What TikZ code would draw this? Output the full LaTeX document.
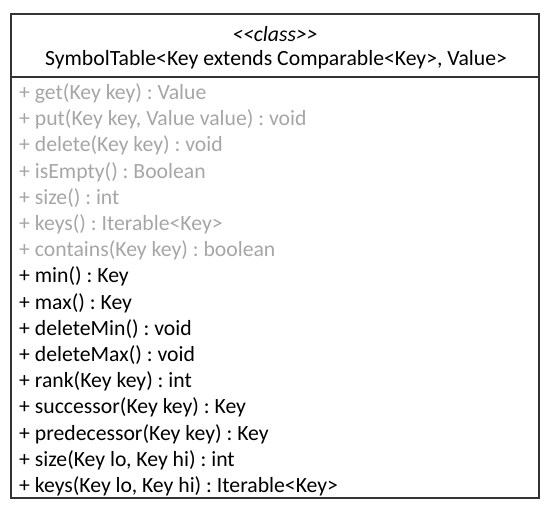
\documentclass[tikz,border=0pt]{standalone}
\usepackage{fontspec}
\setmainfont{Carlito}
\usepackage{xcolor}
\usetikzlibrary{positioning}
\definecolor{inherited}{HTML}{A6A6A6}
\tikzset{
  frame/.style   = {draw=black!80, line width=1.2pt},
  title/.style   = {anchor=base, font=\fontsize{21.7}{24}\selectfont, inner sep=0pt},
  member/.style  = {anchor=base west, font=\fontsize{21.7}{24}\selectfont, inner sep=0pt},
  old/.style     = {member, text=inherited}
}

\begin{document}
\frenchspacing
\begin{tikzpicture}[x=1pt, y=-1pt]
  \useasboundingbox (0,0) rectangle (550,511);
  \coordinate (tl) at (11,14);
  \coordinate (br) at (539,498);
  \coordinate (sl) at (11,77);
  \coordinate (sr) at (539,77);
  \draw[frame] (tl) rectangle (br);
  \draw[frame] (sl) -- (sr);

  \node[title] (stereo) at (275,41.5) {\itshape <{}<class>{}>};
  \node[title] (name)   at (276,66) {SymbolTable<Key extends Comparable<Key>, Value>};

  % methods inherited from the plain symbol table
  \foreach \m [count=\i] in {%
      {+ get(Key key) : Value},
      {+ put(Key key, Value value) : void},
      {+ delete(Key key) : void},
      {+ isEmpty() : Boolean},
      {+ size() : int},
      {+ keys() : Iterable<Key>},
      {+ contains(Key key) : boolean}}
    \node[old] (m\i) at (19,{99.5+(\i-1)*26.2}) {\m};

  % ordered operations
  \foreach \m [count=\i from 8] in {%
      {+ min() : Key},
      {+ max() : Key},
      {+ deleteMin() : void},
      {+ deleteMax() : void},
      {+ rank(Key key) : int},
      {+ successor(Key key) : Key},
      {+ predecessor(Key key) : Key},
      {+ size(Key lo, Key hi) : int},
      {+ keys(Key lo, Key hi) : Iterable<Key>}}
    \node[member] (m\i) at (19,{99.5+(\i-1)*26.2}) {\m};
\end{tikzpicture}
\end{document}
